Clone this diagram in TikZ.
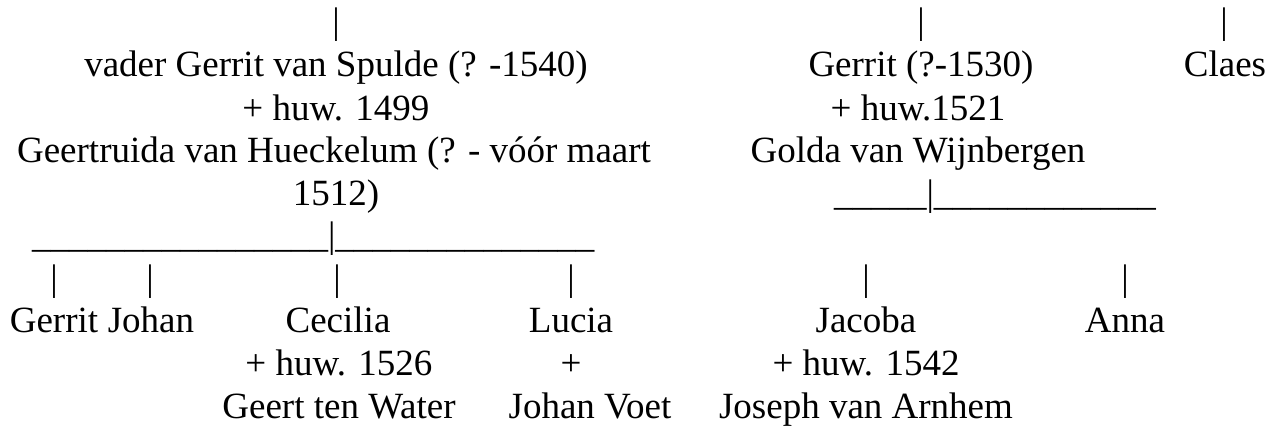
\documentclass[tikz,border=0pt]{standalone}
\usepackage{fontspec}
\setmainfont{Liberation Serif}
\newcommand{\usc}{\textunderscore}
\begin{document}
\begin{tikzpicture}[
  every node/.style={inner sep=0pt, outer sep=0pt, anchor=base,
    font=\fontsize{37}{42.6}\selectfont, text=black},
  lft/.style={anchor=base west}
]
\useasboundingbox (0pt,0pt) rectangle (1279pt,-428pt);
% row baselines
\def\rA{-34pt}\def\rB{-77pt}\def\rC{-120pt}\def\rD{-162pt}\def\rE{-205pt}
\def\rF{-247pt}\def\rG{-290pt}\def\rH{-332pt}\def\rI{-375pt}\def\rJ{-418pt}
% top row bars
\node (p0a) at (336pt,\rA) {\textbar};
\node (p0b) at (921pt,\rA) {\textbar};
\node (p0c) at (1224pt,\rA) {\textbar};
% parents left
\node (fa1) at (336pt,\rB) {vader Gerrit van Spulde (? -1540)};
\node (fa2) at (336pt,\rC) {+ huw. 1499};
\node (fa3) at (334pt,\rD) {Geertruida van Hueckelum (? - vóór maart};
\node (fa4) at (336pt,\rE) {1512)};
% parents right
\node (gb1) at (921pt,\rB) {Gerrit (?-1530)};
\node (gb2) at (918pt,\rC) {+ huw.1521};
\node (gb3) at (918pt,\rD) {Golda van Wijnbergen};
\node[lft] (gbl) at (834pt,\rE) {\usc\usc\usc\usc\usc\textbar\usc\usc\usc\usc\usc\usc\usc\usc\usc\usc\usc\usc};
% Claes
\node (cl) at (1225pt,\rB) {Claes};
% left sibling line
\node[lft] (fal) at (32pt,\rF) {\usc\usc\usc\usc\usc\usc\usc\usc\usc\usc\usc\usc\usc\usc\usc\usc\textbar\usc\usc\usc\usc\usc\usc\usc\usc\usc\usc\usc\usc\usc\usc};
% child bars
\node (b1) at (54pt,\rG) {\textbar};
\node (b2) at (150pt,\rG) {\textbar};
\node (b3) at (337pt,\rG) {\textbar};
\node (b4) at (571pt,\rG) {\textbar};
\node (b5) at (866pt,\rG) {\textbar};
\node (b6) at (1125pt,\rG) {\textbar};
% children
\node (c1) at (54pt,\rH) {Gerrit};
\node (c2) at (151pt,\rH) {Johan};
\node (c3) at (338pt,\rH) {Cecilia};
\node (c3b) at (339pt,\rI) {+ huw. 1526};
\node (c3c) at (339pt,\rJ) {Geert ten Water};
\node (c4) at (571pt,\rH) {Lucia};
\node (c4b) at (571pt,\rI) {+};
\node (c4c) at (590pt,\rJ) {Johan Voet};
\node (c5) at (866pt,\rH) {Jacoba};
\node (c5b) at (866pt,\rI) {+ huw. 1542};
\node (c5c) at (866pt,\rJ) {Joseph van Arnhem};
\node (c6) at (1125pt,\rH) {Anna};
\end{tikzpicture}
\end{document}
